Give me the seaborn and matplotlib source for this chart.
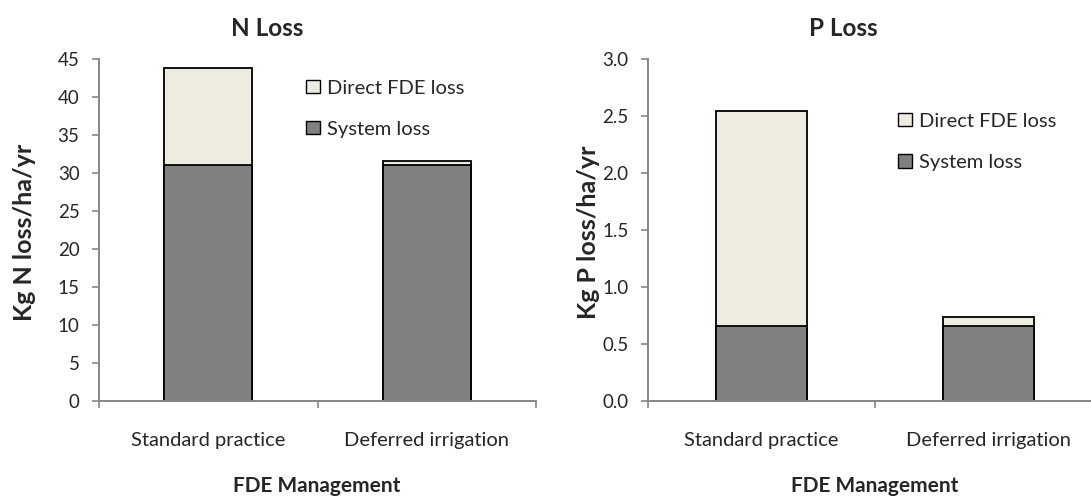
import matplotlib
matplotlib.use("Agg")
import matplotlib.pyplot as plt
import seaborn as sns
import pandas as pd
from matplotlib.patches import Patch

sns.set_style("white")
plt.rcParams["font.family"] = ["Lato", "DejaVu Sans"]

categories = ["Standard practice", "Deferred irrigation"]
n_system = [31.1, 31.1]
n_direct = [12.7, 0.45]
p_system = [0.654, 0.654]
p_direct = [1.89, 0.082]

LIGHT = "#EEECE1"
DARK = "#808080"
AXIS = "#868686"

W, H = 1091, 500
fig = plt.figure(figsize=(W / 100, H / 100), dpi=100)
ax_n = fig.add_axes([99 / W, 99 / H, 437 / W, 342 / H])
ax_p = fig.add_axes([648 / W, 99 / H, 454 / W, 342 / H])


def stacked(ax, system, direct, ymax, ystep, fmt, leg_anchor):
    df = pd.DataFrame({
        "cat": categories,
        "system": system,
        "total": [s + d for s, d in zip(system, direct)],
    })
    sns.barplot(data=df, x="cat", y="total", color=LIGHT, edgecolor="black",
                linewidth=1.3, width=0.405, saturation=1, ax=ax)
    sns.barplot(data=df, x="cat", y="system", color=DARK, edgecolor="black",
                linewidth=1.3, width=0.405, saturation=1, ax=ax)
    ax.set_xlim(-0.5, 1.5)
    ax.set_ylim(0, ymax)
    yt = [i * ystep for i in range(int(round(ymax / ystep)) + 1)]
    ax.set_yticks(yt)
    ax.set_yticklabels([fmt.format(v) for v in yt], fontsize=13.5)
    ax.set_xticks([-0.5, 0.5, 1.5])
    ax.set_xticklabels([])
    ax.set_xticks([0, 1], minor=True)
    ax.set_xticklabels(categories, minor=True, fontsize=14.5)
    ax.tick_params(axis="x", which="minor", length=0, pad=22)
    ax.tick_params(axis="x", which="major", length=5, width=1.2, color=AXIS, direction="out")
    ax.tick_params(axis="y", length=5, width=1.2, color=AXIS, direction="out", pad=9)
    ax.tick_params(bottom=True, left=True)
    for s in ["top", "right"]:
        ax.spines[s].set_visible(False)
    for s in ["left", "bottom"]:
        ax.spines[s].set_color(AXIS)
        ax.spines[s].set_linewidth(1.4)
    ax.set_xlabel("")
    ax.set_ylabel("")
    handles = [Patch(facecolor=LIGHT, edgecolor="black", label="Direct FDE loss"),
               Patch(facecolor=DARK, edgecolor="black", label="System loss")]
    ax.legend(handles=handles, loc="upper left", bbox_to_anchor=leg_anchor,
              frameon=False, fontsize=14.5, handlelength=0.67, handleheight=0.67,
              handletextpad=0.35, labelspacing=1.2, borderaxespad=0, borderpad=0)


stacked(ax_n, n_system, n_direct, 45, 5, "{:.0f}", (0.474, 0.94))
stacked(ax_p, p_system, p_direct, 3.0, 0.5, "{:.1f}", (0.551, 0.843))

bold = dict(ha="center", va="center", fontweight="bold")
fig.text(267 / W, 1 - 28 / H, "N Loss", fontsize=17.5, **bold)
fig.text(843 / W, 1 - 28 / H, "P Loss", fontsize=17.5, **bold)
fig.text(317 / W, 1 - 486 / H, "FDE Management", fontsize=15, **bold)
fig.text(875 / W, 1 - 486 / H, "FDE Management", fontsize=15, **bold)
fig.text(25 / W, 1 - 232 / H, "Kg N loss/ha/yr", rotation=90, fontsize=18, **bold)
fig.text(588 / W, 1 - 232 / H, "Kg P loss/ha/yr", rotation=90, fontsize=18, **bold)

fig.savefig("out.png", dpi=100)
